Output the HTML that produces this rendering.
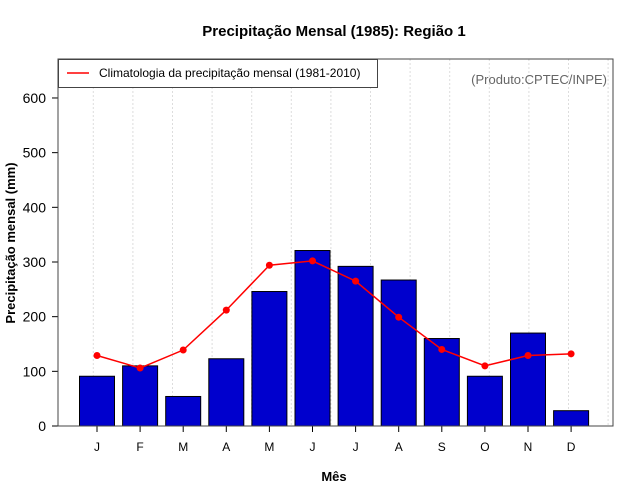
<!DOCTYPE html>
<html><head><meta charset="utf-8"><style>
body{margin:0;background:#fff;}
svg{display:block;font-family:"Liberation Sans",sans-serif;}
</style></head><body>
<svg id="chart" width="640" height="500">
<rect x="0" y="0" width="640" height="500" fill="#fff"/>
<text x="334" y="36" text-anchor="middle" font-size="15" font-weight="bold">Precipitação Mensal (1985): Região 1</text>
<g id="grid"></g>
<g id="bars"></g>
<g id="line"></g>
<g id="axes"></g>
<rect x="58" y="59" width="555" height="367" fill="none" stroke="#444" stroke-width="1"/>
<g>
<rect x="58.5" y="59.5" width="319" height="28" fill="#fff" stroke="#444"/>
<line x1="67" y1="73" x2="89" y2="73" stroke="red" stroke-width="1.5"/>
<text x="99" y="77" font-size="12">Climatologia da precipitação mensal (1981-2010)</text>
</g>
<text x="607" y="84" text-anchor="end" font-size="13" fill="#666">(Produto:CPTEC/INPE)</text>
<text x="334" y="481" text-anchor="middle" font-size="13" font-weight="bold">Mês</text>
<text transform="translate(15,243) rotate(-90)" text-anchor="middle" font-size="13" font-weight="bold">Precipitação mensal (mm)</text>
</svg>
<script>
const months = ["J","F","M","A","M","J","J","A","S","O","N","D"];
const observed = [91,110,54,123,246,321,292,267,160,91,170,28];
const climatology = [129,106,139,212,294,302,265,199,140,110,129,132];
const yTicks = [0,100,200,300,400,500,600];
const NS = "http://www.w3.org/2000/svg";
function x(i){return 97 + i*43.1;}
function y(v){return 426 - v*0.5467;}
function mk(tag, attrs, parent){const e=document.createElementNS(NS,tag);for(const k in attrs)e.setAttribute(k,attrs[k]);parent.appendChild(e);return e;}
const grid=document.getElementById('grid'), bars=document.getElementById('bars'), line=document.getElementById('line'), axes=document.getElementById('axes');
for(let gx=93.3; gx<612; gx+=39.6){
  const g=mk('line',{x1:gx,x2:gx,y1:59,y2:426,stroke:'#ddd','stroke-dasharray':'2,2'},grid);
  
  
}
observed.forEach((v,i)=>{
  const r=mk('rect',{x:x(i)-17.5,y:y(v),width:35,height:426-y(v),fill:'#0000cd',stroke:'#000','stroke-width':1},bars);
  
  
});
const pts=climatology.map((v,i)=>x(i)+','+y(v)).join(' ');
const pl=mk('polyline',{points:pts,fill:'none',stroke:'red','stroke-width':1.5},line);


climatology.forEach((v,i)=>{
  const c=mk('circle',{cx:x(i),cy:y(v),r:3.5,fill:'red'},line);
  
  
});
yTicks.forEach(t=>{
  mk('line',{x1:52,x2:58,y1:y(t),y2:y(t),stroke:'#000'},axes);
  const tx=mk('text',{x:46,y:y(t)+5,'text-anchor':'end','font-size':14},axes);
  tx.textContent=t;
  
  
});
mk('line',{x1:58,x2:58,y1:y(0),y2:y(600),stroke:'#000'},axes);
months.forEach((m,i)=>{
  mk('line',{x1:x(i),x2:x(i),y1:426,y2:432,stroke:'#000'},axes);
  const tx=mk('text',{x:x(i),y:451,'text-anchor':'middle','font-size':12},axes);
  tx.textContent=m;
  
  
});
</script>
</body></html>
